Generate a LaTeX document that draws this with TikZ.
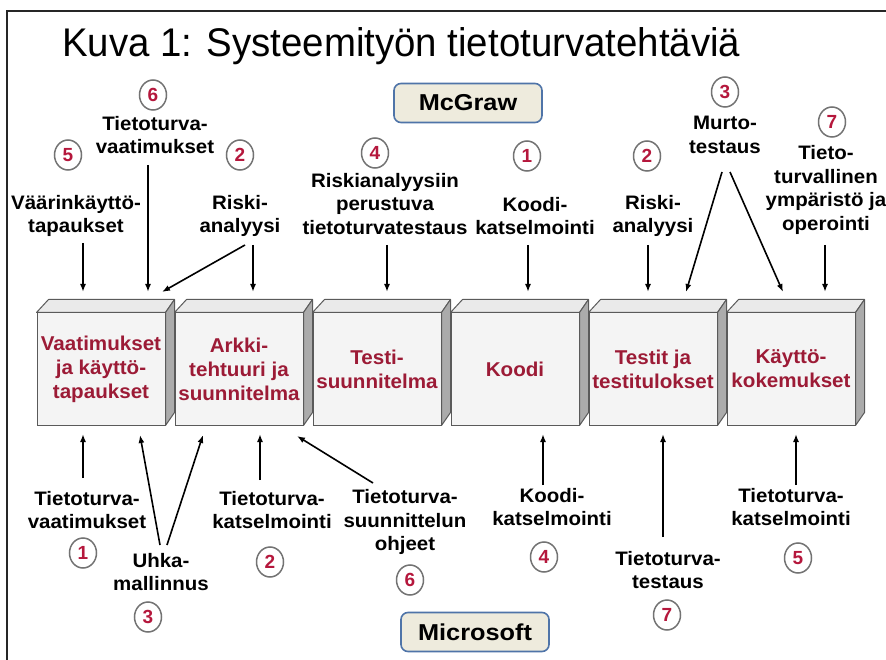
\documentclass[tikz,border=0pt]{standalone}
\usepackage{fontspec}
\setmainfont{Liberation Sans}
\newfontfamily\titlefont[FakeStretch=0.96]{Liberation Sans}
\newfontfamily\labfont[FakeStretch=1.05]{Liberation Sans}
\newfontfamily\boxfont[FakeStretch=1.03]{Liberation Sans}
\newfontfamily\tagfont[FakeStretch=1.1]{Liberation Sans}
\usetikzlibrary{arrows.meta,shapes.geometric,calc}
\definecolor{boxred}{HTML}{9C1B36}
\definecolor{numred}{HTML}{B5173C}
\definecolor{tagfill}{HTML}{EEEBDD}
\definecolor{tagline}{HTML}{4F74A8}
\definecolor{frontfill}{HTML}{F4F4F4}
\definecolor{topfill}{HTML}{EAEAEA}
\definecolor{sidefill}{HTML}{ABABAB}
\definecolor{edge}{HTML}{5A5A5A}
\begin{document}
\begin{tikzpicture}[x=1pt,y=-1pt,
  lab/.style={font=\labfont\bfseries\fontsize{19.5}{23.5}\selectfont, align=center, inner sep=0pt},
  num/.style={ellipse, draw=black!55, line width=1.5pt, fill=white, minimum width=27pt,
    minimum height=30pt, inner sep=0pt, font=\bfseries\fontsize{19}{19}\selectfont, text=numred},
  front/.style={draw=edge, line width=1pt, fill=frontfill, minimum width=128pt,
    minimum height=112pt, inner sep=0pt, align=center, text=boxred,
    font=\boxfont\bfseries\fontsize{20}{24}\selectfont},
  topface/.style={draw=edge, line width=1pt, fill=topfill, line join=round},
  sideface/.style={draw=edge, line width=1pt, fill=sidefill, line join=round},
  arr/.style={-{Latex[length=8pt,width=6pt]}, line width=1.6pt},
  tag/.style={rounded corners=7pt, draw=tagline, fill=tagfill, line width=1.6pt,
    minimum width=148pt, minimum height=39pt, inner sep=0pt,
    font=\tagfont\bfseries\fontsize{23}{23}\selectfont}]
\useasboundingbox (0,0) rectangle (886,660);
\fill[white] (0,0) rectangle (886,660);
% frame
\draw[line width=2pt, black!85] (7,660) -- (7,11) -- (886,11);
% title
\node[anchor=base west, inner sep=0pt, font=\titlefont\fontsize{40}{40}\selectfont] (title) at (62,57) {Kuva 1: Systeemityön tietoturvatehtäviä};
% boxes
\node[front] (b1) at (101,369) {Vaatimukset\\ja käyttö-\\tapaukset};
\node[front] (b2) at (239,369) {Arkki-\\tehtuuri ja\\suunnitelma};
\node[front] (b3) at (377,369) {Testi-\\suunnitelma};
\node[front] (b4) at (515,369) {Koodi};
\node[front] (b5) at (653,369) {Testit ja\\testitulokset};
\node[front] (b6) at (791,369) {Käyttö-\\kokemukset};
\foreach \b in {b1,b2,b3,b4,b5,b6}{
  \draw[topface] (\b.north west) -- ++(12,-13) -- ($(\b.north east)+(9,-13)$) -- (\b.north east) -- cycle;
  \draw[sideface] (\b.north east) -- ++(9,-13) -- ($(\b.south east)+(9,-13)$) -- (\b.south east) -- cycle;
}
% tags
\node[tag] (mcgraw) at (468,103) {McGraw};
\node[tag] (microsoft) at (475,632) {Microsoft};
% ---- top labels ----
\node[num] (n5) at (68,155) {5};
\node[lab] (vk) at (76,216) {Väärinkäyttö-\\tapaukset};
\node[num] (n6) at (153,95) {6};
\node[lab] (tv) at (155,135) {Tietoturva-\\vaatimukset};
\node[num] (n2a) at (240,155) {2};
\node[lab] (ra) at (240,216) {Riski-\\analyysi};
\node[num] (n4) at (375,153) {4};
\node[lab] (rp) at (385,204) {Riskianalyysiin\\perustuva\\tietoturvatestaus};
\node[num] (n1) at (527,156) {1};
\node[lab] (kk) at (535,216) {Koodi-\\katselmointi};
\node[num] (n2b) at (647,156) {2};
\node[lab] (ra2) at (653,216) {Riski-\\analyysi};
\node[num] (n3) at (725,92) {3};
\node[lab] (mt) at (725,135) {Murto-\\testaus};
\node[num] (n7) at (832,122) {7};
\node[lab] (ty) at (826,190) {Tieto-\\turvallinen\\ympäristö ja\\operointi};
% top arrow ends
\coordinate (vk-s) at (83,243);  \coordinate (vk-e) at (83,292);
\coordinate (tv-s) at (148,165); \coordinate (tv-e) at (148,292);
\coordinate (ra-s) at (253,245); \coordinate (ra-e) at (253,292);
\coordinate (ra-d) at (245,245); \coordinate (ra-f) at (162,292);
\coordinate (rp-s) at (387,245); \coordinate (rp-e) at (387,292);
\coordinate (kk-s) at (528,245); \coordinate (kk-e) at (528,292);
\coordinate (rb-s) at (648,245); \coordinate (rb-e) at (648,292);
\coordinate (mt-a) at (722,172); \coordinate (mt-b) at (686,292);
\coordinate (mt-c) at (730,172); \coordinate (mt-d) at (783,292);
\coordinate (ty-s) at (825,245); \coordinate (ty-e) at (825,292);
\foreach \s/\e in {vk-s/vk-e,tv-s/tv-e,ra-s/ra-e,ra-d/ra-f,rp-s/rp-e,kk-s/kk-e,rb-s/rb-e,mt-a/mt-b,mt-c/mt-d,ty-s/ty-e}
  \draw[arr] (\s) -- (\e);
% ---- bottom labels ----
\node[lab] (tv2) at (87,510) {Tietoturva-\\vaatimukset};
\node[num] (n1b) at (83,553) {1};
\node[lab] (um) at (161,572) {Uhka-\\mallinnus};
\node[num] (n3b) at (148,617) {3};
\node[lab] (tk) at (272,510) {Tietoturva-\\katselmointi};
\node[num] (n2c) at (270,562) {2};
\node[lab] (ts) at (405,522) {Tietoturva-\\suunnittelun\\ohjeet};
\node[num] (n6b) at (410,580) {6};
\node[lab] (kk2) at (552,507) {Koodi-\\katselmointi};
\node[num] (n4b) at (544,557) {4};
\node[lab] (tt) at (668,570) {Tietoturva-\\testaus};
\node[num] (n7b) at (667,615) {7};
\node[lab] (tk2) at (791,507) {Tietoturva-\\katselmointi};
\node[num] (n5b) at (798,558) {5};
% bottom arrow ends
\coordinate (tv2-s) at (83,478);  \coordinate (tv2-e) at (83,434);
\coordinate (um-a) at (160,545);  \coordinate (um-b) at (140,435);
\coordinate (um-c) at (167,545);  \coordinate (um-d) at (203,435);
\coordinate (tk-s) at (260,480);  \coordinate (tk-e) at (260,434);
\coordinate (ts-s) at (373,483);  \coordinate (ts-e) at (297,436);
\coordinate (kk2-s) at (543,485); \coordinate (kk2-e) at (543,434);
\coordinate (tt-s) at (663,537);  \coordinate (tt-e) at (663,434);
\coordinate (tk2-s) at (796,485); \coordinate (tk2-e) at (796,434);
\foreach \s/\e in {tv2-s/tv2-e,um-a/um-b,um-c/um-d,tk-s/tk-e,ts-s/ts-e,kk2-s/kk2-e,tt-s/tt-e,tk2-s/tk2-e}
  \draw[arr] (\s) -- (\e);
\end{tikzpicture}
\end{document}
